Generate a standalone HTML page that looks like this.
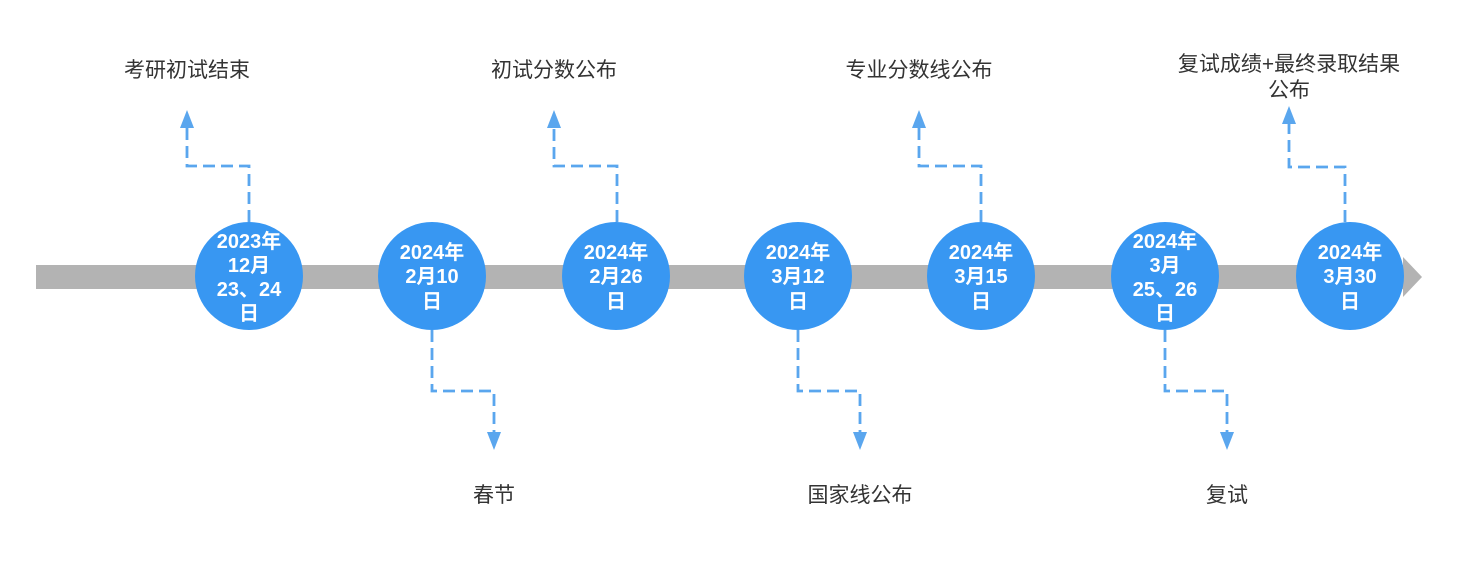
<!DOCTYPE html>
<html><head><meta charset="utf-8"><style>
html,body{margin:0;padding:0;background:#fff;}
svg{display:block;}
.l{font-family:"Liberation Sans","Noto Sans CJK SC",sans-serif;font-size:21px;fill:#333;text-anchor:middle;}
.c{font-family:"Liberation Sans","Noto Sans CJK SC",sans-serif;font-size:20px;font-weight:bold;fill:#fff;text-anchor:middle;dominant-baseline:central;}
.d{fill:none;stroke:#5aa6ee;stroke-width:2.8;stroke-dasharray:12 6;}
</style></head><body>
<svg width="1459" height="561" viewBox="0 0 1459 561" xmlns="http://www.w3.org/2000/svg">
<rect x="36" y="265" width="1370" height="24" fill="#b3b3b3"/>
<polygon points="1403,257 1422,277 1403,297" fill="#b3b3b3"/>
<g>
<path class="d" d="M249 222 V166 H187 V122"/><polygon points="180,128 194,128 187,110" fill="#5aa6ee"/>
<path class="d" d="M617 222 V166 H554 V122"/><polygon points="547,128 561,128 554,110" fill="#5aa6ee"/>
<path class="d" d="M981 222 V166 H919 V122"/><polygon points="912,128 926,128 919,110" fill="#5aa6ee"/>
<path class="d" d="M1345 222 V167 H1289 V118"/><polygon points="1282,124 1296,124 1289,106" fill="#5aa6ee"/>
</g>
<g>
<path class="d" d="M432 330 V391 H494 V436"/><polygon points="487,432 501,432 494,450" fill="#5aa6ee"/>
<path class="d" d="M798 330 V391 H860 V436"/><polygon points="853,432 867,432 860,450" fill="#5aa6ee"/>
<path class="d" d="M1165 330 V391 H1227 V436"/><polygon points="1220,432 1234,432 1227,450" fill="#5aa6ee"/>
</g>
<g fill="#3897f2">
<circle cx="249" cy="276" r="54"/><circle cx="432" cy="276" r="54"/><circle cx="616" cy="276" r="54"/>
<circle cx="798" cy="276" r="54"/><circle cx="981" cy="276" r="54"/><circle cx="1165" cy="276" r="54"/>
<circle cx="1350" cy="276" r="54"/>
</g>
<text class="c" x="249" y="242">2023年</text><text class="c" x="249" y="266">12月</text><text class="c" x="249" y="290">23、24</text><text class="c" x="249" y="314">日</text>
<text class="c" x="432" y="253">2024年</text><text class="c" x="432" y="277">2月10</text><text class="c" x="432" y="302">日</text>
<text class="c" x="616" y="253">2024年</text><text class="c" x="616" y="277">2月26</text><text class="c" x="616" y="302">日</text>
<text class="c" x="798" y="253">2024年</text><text class="c" x="798" y="277">3月12</text><text class="c" x="798" y="302">日</text>
<text class="c" x="981" y="253">2024年</text><text class="c" x="981" y="277">3月15</text><text class="c" x="981" y="302">日</text>
<text class="c" x="1165" y="242">2024年</text><text class="c" x="1165" y="266">3月</text><text class="c" x="1165" y="290">25、26</text><text class="c" x="1165" y="314">日</text>
<text class="c" x="1350" y="253">2024年</text><text class="c" x="1350" y="277">3月30</text><text class="c" x="1350" y="302">日</text>
<text class="l" x="187" y="77">考研初试结束</text>
<text class="l" x="554" y="77">初试分数公布</text>
<text class="l" x="919" y="77">专业分数线公布</text>
<text class="l" x="1289" y="71">复试成绩+最终录取结果</text>
<text class="l" x="1289" y="97">公布</text>
<text class="l" x="494" y="502">春节</text>
<text class="l" x="860" y="502">国家线公布</text>
<text class="l" x="1227" y="502">复试</text>
</svg>
</body></html>
